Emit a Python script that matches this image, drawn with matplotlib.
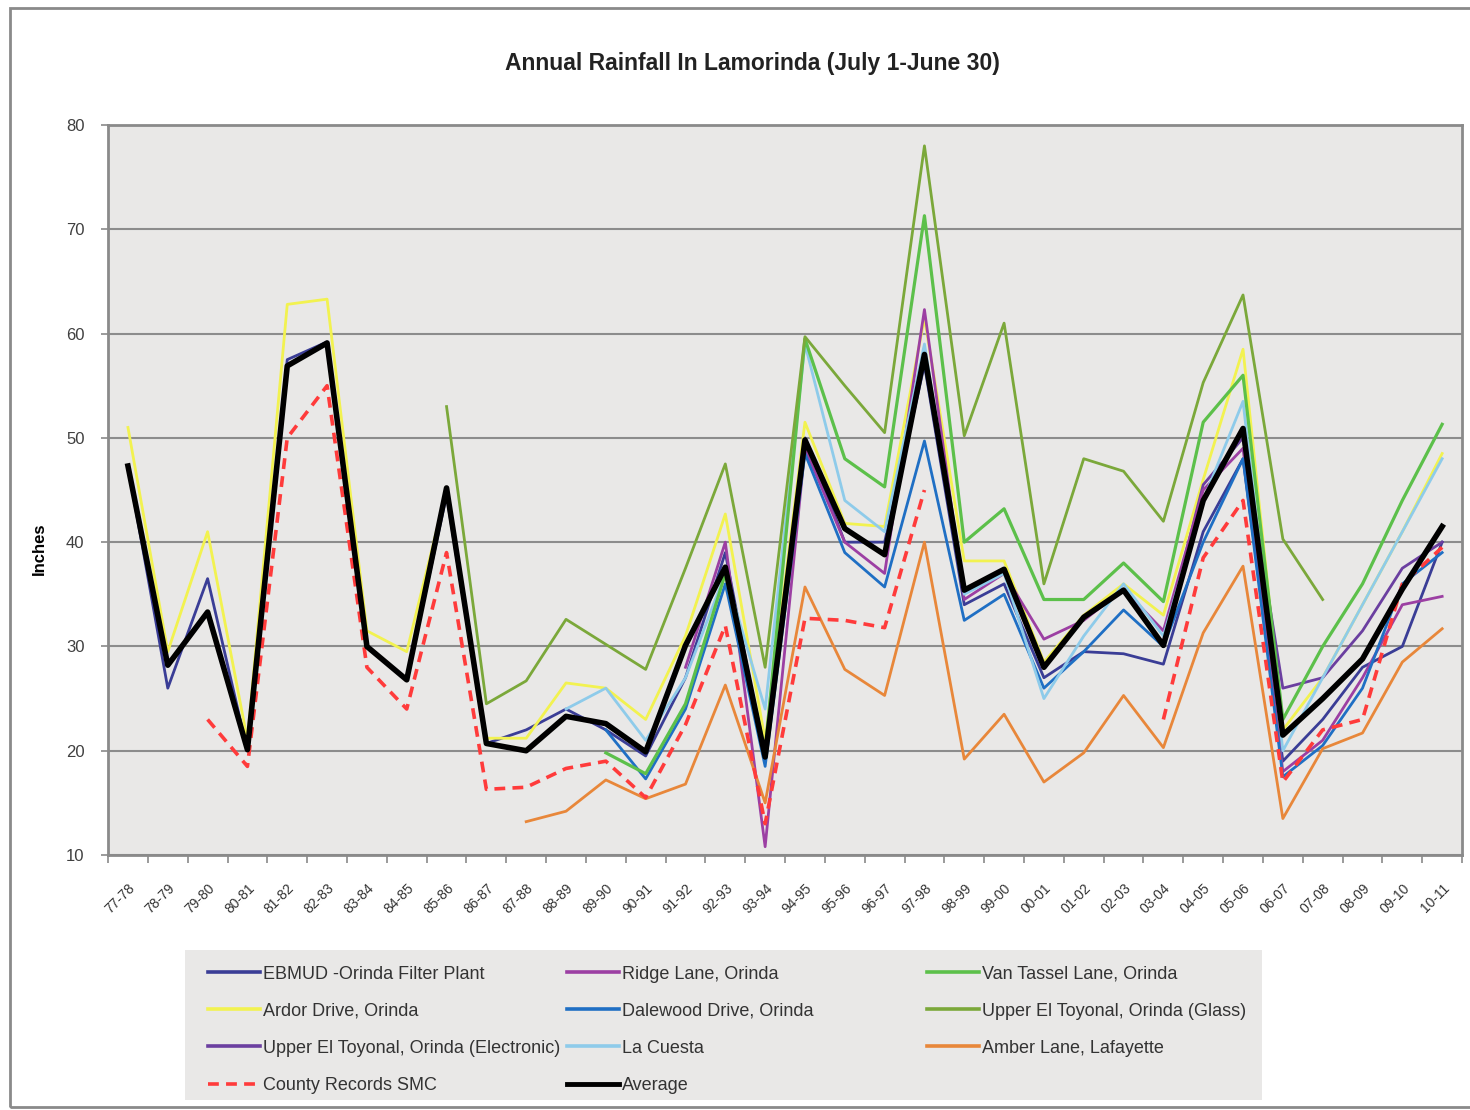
import matplotlib
matplotlib.use("Agg")
import matplotlib.pyplot as plt
import numpy as np

# season labels
seasons = ['77-78', '78-79', '79-80', '80-81', '81-82', '82-83', '83-84', '84-85',
           '85-86', '86-87', '87-88', '88-89', '89-90', '90-91', '91-92', '92-93',
           '93-94', '94-95', '95-96', '96-97', '97-98', '98-99', '99-00', '00-01',
           '01-02', '02-03', '03-04', '04-05', '05-06', '06-07', '07-08', '08-09',
           '09-10', '10-11']
N = None

ebmud = [47.3, 26.0, 36.5, 20.0, 57.5, 59.2, 30.0, 26.8, 44.5, 20.7, 22.0, 24.0,
         22.0, 19.5, 27.0, 39.0, 19.0, 50.0, 40.0, 40.0, 57.0, 34.0, 36.0, 27.0,
         29.5, 29.3, 28.3, 41.0, 48.0, 19.0, 23.0, 28.0, 30.0, 40.0]
ridge = [N, N, N, N, N, N, N, N, N, N, N, N, N, N, 28.0, 40.0, 10.8, 49.0, 40.0,
         37.0, 62.3, 34.5, 37.0, 30.7, 32.5, 35.5, 31.5, 45.0, 49.0, 18.0, 21.0,
         27.0, 34.0, 34.8]
van_tassel = [N, N, N, N, N, N, N, N, N, N, N, N, 19.8, 17.8, 24.5, 37.0, 20.0,
              59.5, 48.0, 45.3, 71.3, 40.0, 43.2, 34.5, 34.5, 38.0, 34.3, 51.5,
              56.0, 23.0, 30.0, 36.0, 44.0, 51.3]
ardor = [51.0, 29.5, 41.0, 21.0, 62.8, 63.3, 31.5, 29.5, 45.0, 21.2, 21.2, 26.5,
         26.0, 23.0, 31.0, 42.7, 21.0, 51.5, 41.8, 41.5, 61.5, 38.2, 38.2, 28.5,
         33.0, 36.0, 33.0, 46.0, 58.5, 22.0, 27.0, 34.0, 41.0, 48.5]
dalewood = [N, N, N, N, N, N, N, N, N, N, N, N, 22.0, 17.3, 24.0, 36.0, 18.5,
            48.5, 39.0, 35.7, 49.7, 32.5, 35.0, 26.0, 29.5, 33.5, 30.0, 40.0,
            48.0, 17.5, 20.5, 26.0, 36.0, 39.0]
el_toyonal_glass = [N, N, N, N, N, N, N, N, 53.0, 24.5, 26.7, 32.6, 30.2, 27.8,
                    37.5, 47.5, 28.0, 59.7, 55.0, 50.5, 78.0, 50.2, 61.0, 36.0,
                    48.0, 46.8, 42.0, 55.3, 63.7, 40.3, 34.5, N, N, N]
el_toyonal_elec = [N, N, N, N, N, N, N, N, N, N, N, N, N, N, N, N, N, N, N, N,
                   N, N, N, N, N, N, 30.5, 45.5, 50.0, 26.0, 27.0, 31.5, 37.5, 40.0]
la_cuesta = [N, N, N, N, N, N, N, N, N, N, N, 24.0, 26.0, 21.0, 27.0, 37.0, 24.0,
             59.0, 44.0, 41.0, 59.0, 35.0, 37.0, 25.0, 31.0, 36.0, 31.0, 44.0,
             53.5, 20.0, 27.0, 34.0, 41.0, 48.0]
amber = [N, N, N, N, N, N, N, N, N, N, 13.2, 14.2, 17.2, 15.4, 16.8, 26.3, 15.0,
         35.7, 27.8, 25.3, 40.0, 19.2, 23.5, 17.0, 19.8, 25.3, 20.3, 31.3, 37.7,
         13.5, 20.2, 21.7, 28.5, 31.7]
county = [N, N, 23.0, 18.5, 50.0, 55.0, 28.0, 24.0, 39.0, 16.3, 16.5, 18.3, 19.0,
          15.5, 22.5, 32.0, 13.0, 32.7, 32.5, 31.8, 45.0, N, N, N, N, N, 23.0,
          38.5, 44.0, 17.0, 22.0, 23.0, 36.0, 39.5]
average = [47.3, 28.2, 33.3, 20.1, 56.9, 59.1, 30.0, 26.8, 45.2, 20.7, 20.0, 23.3,
           22.6, 19.9, 30.1, 37.6, 19.4, 49.8, 41.3, 38.8, 58.0, 35.4, 37.4, 28.0,
           32.8, 35.4, 30.1, 44.0, 50.9, 21.5, 25.0, 28.8, 35.5, 41.5]

plt.rcParams['font.family'] = ['Liberation Sans', 'DejaVu Sans']

fig = plt.figure(figsize=(14.7, 11.1), dpi=100)
# outer chart border
fig.patches.append(plt.Rectangle((0.007, 0.003), 1.1, 0.99, transform=fig.transFigure,
                                 fill=False, edgecolor='#8a8a8a', linewidth=2))
# legend background
fig.patches.append(plt.Rectangle((0.1259, 0.009), 0.7327, 0.135, transform=fig.transFigure,
                                 facecolor='#e9e8e7', edgecolor='none'))

ax = fig.add_axes([0.0735, 0.2297, 0.9211, 0.6577])
ax.set_facecolor('#e9e8e7')

x = np.arange(len(seasons))


def ser(vals):
    return np.array([np.nan if v is None else v for v in vals], dtype=float)


# legend columns as in the reference (row-wise reading)
columns = [
    [(ebmud, 'EBMUD -Orinda Filter Plant', '#3a3d96', 2.0, '-'),
     (ardor, 'Ardor Drive, Orinda', '#f2f250', 2.0, '-'),
     (el_toyonal_elec, 'Upper El Toyonal, Orinda (Electronic)', '#6b3fa0', 2.0, '-'),
     (county, 'County Records SMC', '#ff3b3b', 2.6, '--')],
    [(ridge, 'Ridge Lane, Orinda', '#9c3fa3', 2.0, '-'),
     (dalewood, 'Dalewood Drive, Orinda', '#1f6fc4', 2.0, '-'),
     (la_cuesta, 'La Cuesta', '#8ecbea', 2.0, '-'),
     (average, 'Average', '#000000', 4.0, '-')],
    [(van_tassel, 'Van Tassel Lane, Orinda', '#5cc04a', 2.3, '-'),
     (el_toyonal_glass, 'Upper El Toyonal, Orinda (Glass)', '#7ba83a', 2.0, '-'),
     (amber, 'Amber Lane, Lafayette', '#e8873a', 2.0, '-')],
]

zorders = {'Average': 10, 'County Records SMC': 8}
col_handles = []
for col in columns:
    hs = []
    for vals, lab, c, lw, ls in col:
        line, = ax.plot(x, ser(vals), color=c, linewidth=lw, linestyle=ls, label=lab,
                        zorder=zorders.get(lab, 5),
                        dashes=(3, 2) if ls == '--' else (None, None))
        hs.append(line)
    col_handles.append(hs)

ax.set_xlim(-0.5, len(seasons) - 0.5)
ax.set_ylim(10, 80)
ax.set_yticks(np.arange(10, 81, 10))
ax.yaxis.grid(True, color='#8c8c8c', linewidth=1.5)
ax.set_axisbelow(True)
for s in ax.spines.values():
    s.set_color('#8a8a8a')
    s.set_linewidth(2)

ax.set_xticks(x)
ax.set_xticklabels(seasons, rotation=45, ha='right', rotation_mode='anchor',
                   fontsize=10, color='#333333')
ax.set_xticks(np.arange(-0.5, len(seasons)), minor=True)
ax.tick_params(axis='x', which='major', length=0, pad=19)
ax.tick_params(axis='x', which='minor', length=6, color='#8a8a8a', width=1.2)
ax.tick_params(axis='y', length=5, color='#8a8a8a', width=1.2, labelsize=12,
               labelcolor='#404040', pad=12)

ax.set_ylabel('Inches', fontsize=12, fontweight='bold')
ax.yaxis.set_label_coords(-0.045, 0.42)
fig.text(0.512, 0.943, 'Annual Rainfall In Lamorinda (July 1-June 30)', ha='center',
         va='center', fontsize=16.5, fontweight='bold', color='#222222')

# three single-column legends at fixed column positions
col_x = [0.1415, 0.3855, 0.6305]
for cx, hs in zip(col_x, col_handles):
    leg = fig.legend(handles=hs, loc='upper left', bbox_to_anchor=(cx, 0.130),
                     fontsize=13, frameon=False, handlelength=2.9,
                     handletextpad=0.15, labelspacing=1.11, borderpad=0,
                     borderaxespad=0)
    for t in leg.get_texts():
        t.set_color('#333333')
    for h in leg.get_lines():
        h.set_linewidth(3.5 if h.get_label() == 'Average' else 2.6)

fig.savefig('out.png', dpi=100)
